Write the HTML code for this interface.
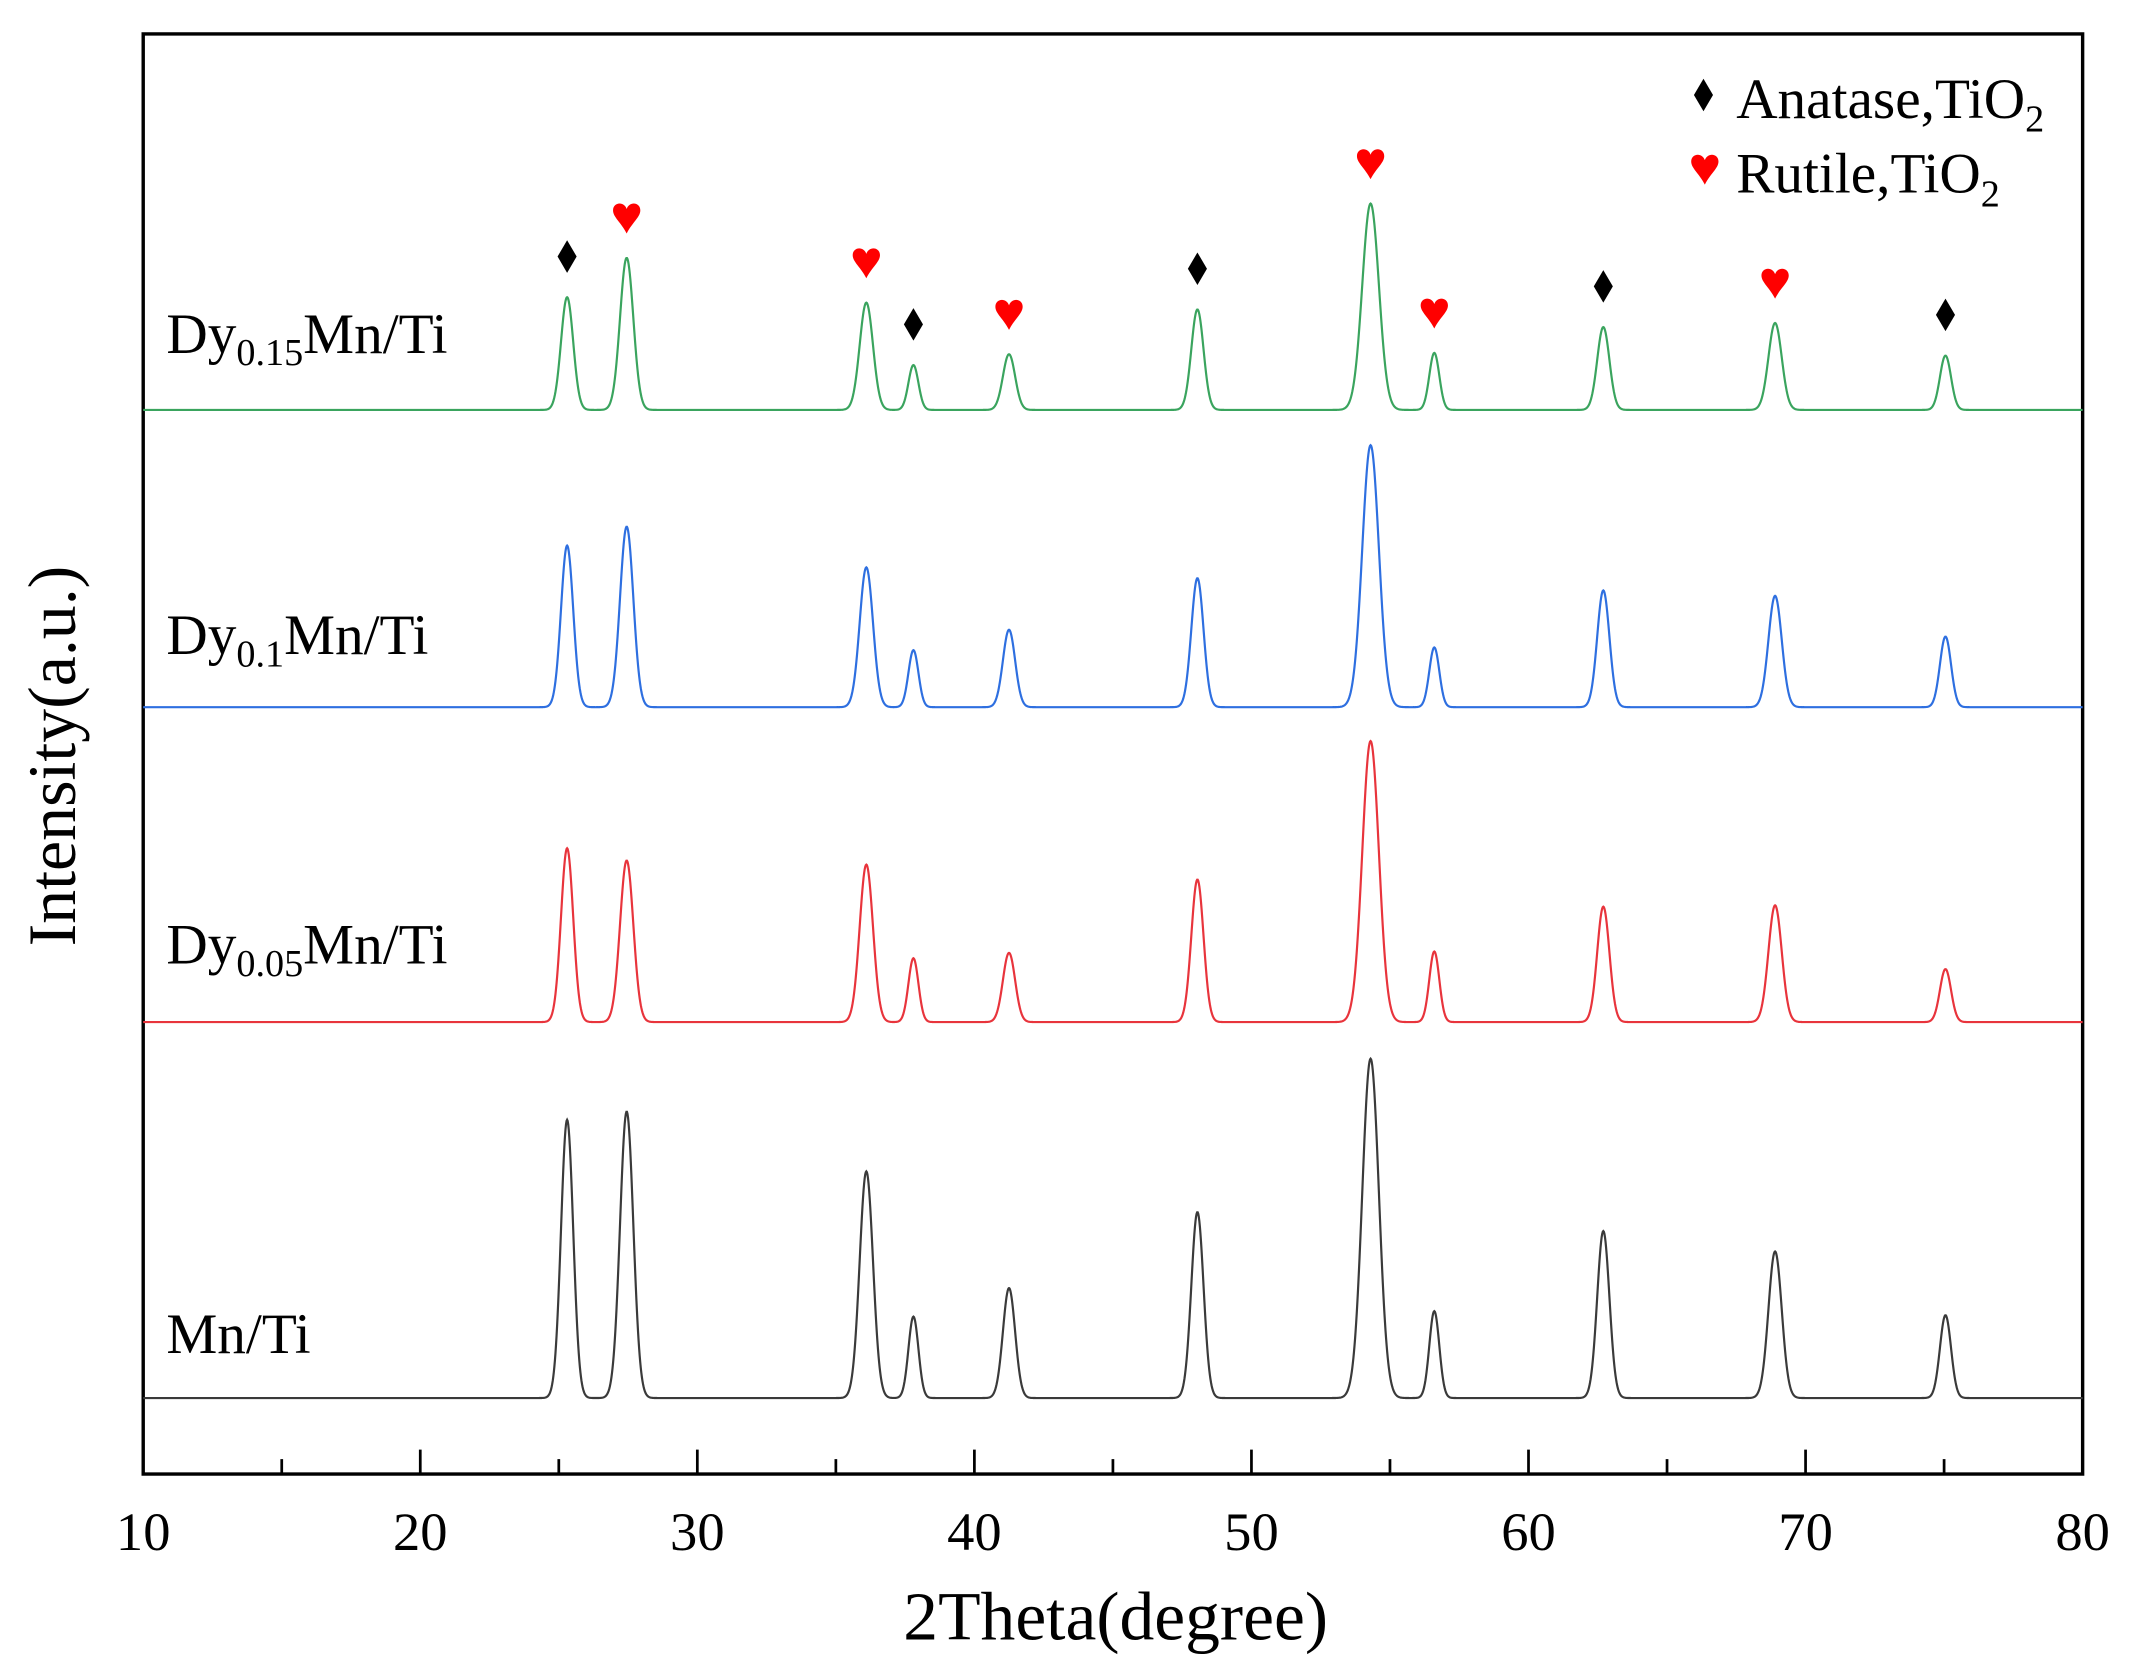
<!DOCTYPE html>
<html><head><meta charset="utf-8"><style>
html,body{margin:0;padding:0;background:#fff;width:2129px;height:1679px;overflow:hidden}
svg{display:block}
text{font-family:"Liberation Serif",serif;fill:#000}
</style></head><body>
<svg id="chart" width="2129" height="1679" viewBox="0 0 1561 1237" preserveAspectRatio="none" xmlns="http://www.w3.org/2000/svg">
<g id="plot"></g>
</svg>
<script>
const peakPositions = [25.3, 27.45, 36.1, 37.8, 41.25, 48.05, 54.3, 56.6, 62.7, 68.9, 75.05];
const peakWidths = [0.22, 0.24, 0.24, 0.18, 0.22, 0.22, 0.3, 0.18, 0.22, 0.24, 0.2];
const peakPhases = ['A','R','R','A','R','A','R','R','A','R','A'];
const seriesNames = ['Dy0.15Mn/Ti','Dy0.1Mn/Ti','Dy0.05Mn/Ti','Mn/Ti'];
const seriesOffsets = [784, 565, 333, 56];
const greenHeights = [83, 112, 79, 33, 41, 74, 152, 42, 61, 64, 40];
const blueHeights = [119, 133, 103, 42, 57, 95, 193, 44, 86, 82, 52];
const redHeights = [128, 119, 116, 47, 51, 105, 207, 52, 85, 86, 39];
const blackHeights = [205, 211, 167, 60, 81, 137, 250, 64, 123, 108, 61];
const xTicks = [10, 20, 30, 40, 50, 60, 70, 80];

const NS = 'http://www.w3.org/2000/svg';
const L = 105, R = 1527, T = 25, B = 1086;
const xs = d => L + (d - 10) * (R - L) / 70;
const ys = v => B - v;
const plot = document.getElementById('plot');
function mk(tag, attrs, parent) {
  const e = document.createElementNS(NS, tag);
  for (const k in attrs) e.setAttribute(k, attrs[k]);
  (parent || plot).appendChild(e);
  return e;
}
const frame = mk('rect', {x: L, y: T, width: R - L, height: B - T, fill: 'none', stroke: '#000', 'stroke-width': 2.5});


for (let d = 15; d < 80; d += 5) {
  const major = d % 10 === 0;
  const t = mk('line', {x1: xs(d), x2: xs(d), y1: B, y2: B - (major ? 18 : 11), stroke: '#000', 'stroke-width': 2});
  
  
}
xTicks.forEach(v => {
  const t = mk('text', {x: xs(v), y: 1142, 'font-size': 40, 'text-anchor': 'middle'});
  t.textContent = v;
  
  
});
const xt = mk('text', {x: 818, y: 1208, 'font-size': 51, 'text-anchor': 'middle'});
xt.textContent = '2Theta(degree)';


const yt = mk('text', {x: 0, y: 0, 'font-size': 50, 'text-anchor': 'middle', transform: 'translate(55,557) rotate(-90)'});
yt.textContent = 'Intensity(a.u.)';



const allHeights = [greenHeights, blueHeights, redHeights, blackHeights];
const colors = ['#3aa45e', '#2e6fe0', '#e8343c', '#3a3a3a'];
const labelY = [260, 482, 710, 997];
allHeights.forEach((hs, si) => {
  let d = '';
  for (let x = 10; x <= 80.0001; x += 0.02) {
    let v = 0;
    peakPositions.forEach((p, i) => { const z = (x - p) / peakWidths[i]; v += hs[i] * Math.exp(-0.5 * z * z); });
    d += (d ? 'L' : 'M') + xs(x).toFixed(2) + ',' + ys(seriesOffsets[si] + v).toFixed(2);
  }
  const path = mk('path', {d: d, fill: 'none', stroke: colors[si], 'stroke-width': 1.6});
  
  
  const name = seriesNames[si];
  const lab = mk('text', {x: 122, y: labelY[si], 'font-size': 42});
  const m = name.match(/^Dy([\d.]+)(.*)$/);
  if (m) {
    const a = mk('tspan', {}, lab); a.textContent = 'Dy';
    const b = mk('tspan', {'font-size': 28, dy: 9}, lab); b.textContent = m[1];
    const c = mk('tspan', {dy: -9}, lab); c.textContent = m[2];
  } else lab.textContent = name;
  
  
});

function diamond(cx, cy) {
  return mk('path', {d: `M${cx},${cy-12}L${cx+7},${cy}L${cx},${cy+12}L${cx-7},${cy}Z`, fill: '#000'});
}
function heart(cx, cy) {
  return mk('path', {d: `M${cx},${cy+12}C${cx-4},${cy+4} ${cx-10},${cy} ${cx-10},${cy-5}C${cx-10},${cy-11} ${cx-2},${cy-12} ${cx},${cy-6}C${cx+2},${cy-12} ${cx+10},${cy-11} ${cx+10},${cy-5}C${cx+10},${cy} ${cx+4},${cy+4} ${cx},${cy+12}Z`, fill: '#f00'});
}
peakPositions.forEach((p, i) => {
  const cy = ys(seriesOffsets[0] + greenHeights[i]) - 30;
  const e = peakPhases[i] === 'A' ? diamond(xs(p), cy) : heart(xs(p), cy);
  
  
});
const ld = diamond(1249, 70);


const lh = heart(1250, 124);


[['Anatase,TiO', 87], ['Rutile,TiO', 142]].forEach((e, i) => {
  const t = mk('text', {x: 1273, y: e[1], 'font-size': 42});
  const a = mk('tspan', {}, t); a.textContent = e[0];
  const b = mk('tspan', {'font-size': 28, dy: 10}, t); b.textContent = '2';
  
  
});
</script>
</body></html>
